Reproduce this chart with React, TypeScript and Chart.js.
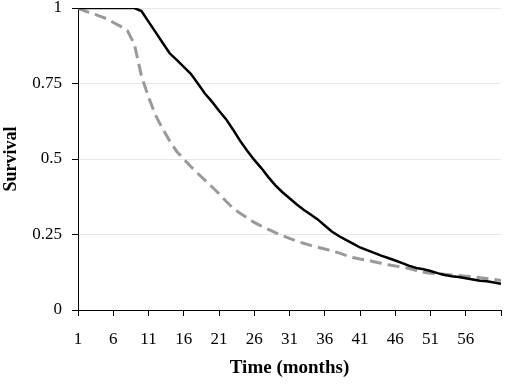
import React, { useEffect, useRef } from "react";
import { Chart, registerables } from "chart.js";

Chart.register(...registerables);

const months: number[] = [
  1, 2, 3, 4, 5, 6, 7, 8, 9, 10, 11, 12, 13, 14, 15, 16, 17, 18, 19, 20,
  21, 22, 23, 24, 25, 26, 27, 28, 29, 30, 31, 32, 33, 34, 35, 36, 37, 38, 39, 40,
  41, 42, 43, 44, 45, 46, 47, 48, 49, 50, 51, 52, 53, 54, 55, 56, 57, 58, 59, 60, 61,
];

const solidSeries: number[] = [
  1, 1, 1, 1, 1, 1, 1, 1, 1, 0.99, 0.955, 0.92, 0.885, 0.85, 0.828, 0.805, 0.782, 0.75, 0.717, 0.69,
  0.66, 0.632, 0.597, 0.56, 0.527, 0.497, 0.47, 0.44, 0.413, 0.39, 0.37, 0.35, 0.332, 0.316, 0.3, 0.28,
  0.26, 0.245, 0.232, 0.22, 0.207, 0.198, 0.189, 0.18, 0.172, 0.164, 0.155, 0.146, 0.139, 0.135, 0.129,
  0.122, 0.116, 0.112, 0.109, 0.105, 0.101, 0.097, 0.095, 0.091, 0.087,
];

const dashedSeries: number[] = [
  1, 0.99, 0.982, 0.974, 0.965, 0.952, 0.94, 0.925, 0.88, 0.775, 0.705, 0.645, 0.6, 0.56, 0.525, 0.5,
  0.475, 0.452, 0.43, 0.408, 0.385, 0.36, 0.337, 0.32, 0.305, 0.29, 0.278, 0.267, 0.256, 0.246, 0.237,
  0.228, 0.221, 0.214, 0.208, 0.202, 0.196, 0.189, 0.181, 0.174, 0.169, 0.165, 0.16, 0.155, 0.15, 0.146,
  0.142, 0.137, 0.131, 0.125, 0.122, 0.12, 0.118, 0.116, 0.114, 0.112, 0.11, 0.107, 0.104, 0.101, 0.098,
];

const yTickLabels: string[] = ["0", "0.25", "0.5", "0.75", "1"];
const xTickLabels: string[] = ["1", "6", "11", "16", "21", "26", "31", "36", "41", "46", "51", "56", ""];

const xTitle = "Time (months)";
const yTitle = "Survival";

const FONT = "'Liberation Serif', 'Times New Roman', serif";

export default function App() {
  const ref = useRef<HTMLCanvasElement | null>(null);

  useEffect(() => {
    if (!ref.current) return;
    const chart = new Chart(ref.current, {
      type: "line",
      data: {
        datasets: [
          {
            label: "solid",
            data: months.map((m, i) => ({ x: m, y: solidSeries[i] })),
            borderColor: "#000000",
            borderWidth: 2.5,
            pointRadius: 0,
            tension: 0,
            fill: false,
          },
          {
            label: "dashed",
            data: months.map((m, i) => ({ x: m, y: dashedSeries[i] })),
            borderColor: "#9a9a9a",
            borderWidth: 3,
            borderDash: [12, 6],
            pointRadius: 0,
            tension: 0,
            fill: false,
          },
        ],
      },
      options: {
        animation: false,
        responsive: false,
        maintainAspectRatio: false,
        layout: { padding: { top: 8, right: 7, left: 0, bottom: 0 } },
        plugins: { legend: { display: false }, tooltip: { enabled: false } },
        scales: {
          x: {
            type: "linear",
            min: 1,
            max: 61,
            ticks: {
              stepSize: 5,
              padding: 13,
              color: "#000",
              font: { family: FONT, size: 17 },
              maxRotation: 0,
              autoSkip: false,
              callback: (_v: any, i: number) => xTickLabels[i] ?? "",
            },
            grid: {
              drawOnChartArea: false,
              drawTicks: true,
              tickLength: 6,
              tickColor: "#000",
              color: "#000",
            },
            border: { display: true, color: "#000", width: 1 },
            title: {
              display: true,
              text: xTitle,
              color: "#000",
              font: { family: FONT, size: 19, weight: "bold" },
              padding: { top: 0, bottom: 5 },
            },
            afterFit: (s: any) => {
              s.height = 74;
              s.paddingLeft = 0;
              s.paddingRight = 0;
            },
          },
          y: {
            min: 0,
            max: 1,
            ticks: {
              stepSize: 0.25,
              padding: 10,
              color: "#000",
              font: { family: FONT, size: 17 },
              callback: (_v: any, i: number) => yTickLabels[i] ?? "",
            },
            grid: {
              color: "#e8e8e8",
              lineWidth: 1,
              drawTicks: true,
              tickLength: 6,
              tickColor: "#000",
            },
            border: { display: true, color: "#000", width: 1 },
            title: {
              display: true,
              text: yTitle,
              color: "#000",
              font: { family: FONT, size: 18, weight: "bold" },
              padding: { top: 1, bottom: 0 },
            },
            afterFit: (s: any) => {
              s.width = 78;
              s.paddingTop = 0;
              s.paddingBottom = 0;
            },
          },
        },
      },
    });
    return () => chart.destroy();
  }, []);

  return (
    <div style={{ position: "fixed", left: 0, top: 0, width: 508, height: 384, background: "#fff" }}>
      <canvas ref={ref} width={508} height={384} style={{ display: "block", width: 508, height: 384 }} />
    </div>
  );
}
